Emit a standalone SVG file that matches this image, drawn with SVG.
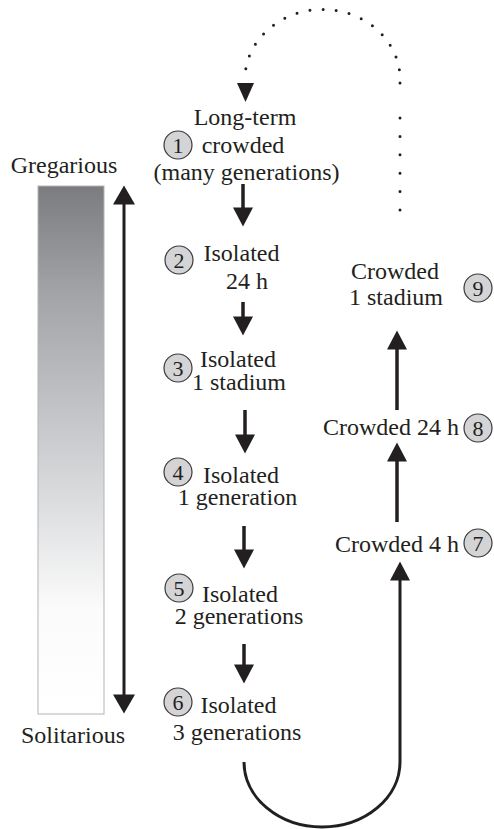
<svg xmlns="http://www.w3.org/2000/svg" width="494" height="829" viewBox="0 0 494 829">
<style>
text{font-family:"Liberation Serif","Times New Roman",serif;font-size:24px;fill:#231f20;text-anchor:middle}
.num{font-size:22px}
.end{text-anchor:end}
.badge{fill:#d4d4d6;stroke:#3a3a3a;stroke-width:1.2}
.arr{stroke:#231f20;stroke-width:3.5;fill:none;marker-end:url(#ah)}
.thin{stroke:#231f20;stroke-width:3;fill:none}
.dots{stroke:#231f20;stroke-width:3;fill:none;stroke-linecap:round}
</style>
<defs>
<linearGradient id="g" x1="0" y1="0" x2="0" y2="1">
<stop offset="0" stop-color="#7b7c80"/>
<stop offset="0.2" stop-color="#a2a3a7"/>
<stop offset="0.4" stop-color="#bfc0c3"/>
<stop offset="0.6" stop-color="#dcdddf"/>
<stop offset="0.8" stop-color="#fbfbfb"/>
<stop offset="1" stop-color="#ffffff"/>
</linearGradient>
<marker id="ah" markerUnits="userSpaceOnUse" markerWidth="20" markerHeight="20" viewBox="0 0 19 20" refX="0.5" refY="10" orient="auto">
<path d="M0,0 L19,10 L0,20 z" fill="#231f20"/>
</marker>
<marker id="ahs" markerUnits="userSpaceOnUse" markerWidth="20" markerHeight="22" viewBox="0 0 19 22" refX="0.5" refY="11" orient="auto-start-reverse">
<path d="M0,0 L19,11 L0,22 z" fill="#231f20"/>
</marker>
</defs>
<g id="scale">
<rect x="38" y="186" width="66" height="528" fill="url(#g)" stroke="#b4b4b6" stroke-width="1"/>
<text x="64" y="173">Gregarious</text>
<text x="73" y="743">Solitarious</text>
</g>

<g id="connectors">
<line x1="124" y1="204" x2="124" y2="695" stroke="#231f20" stroke-width="3" marker-start="url(#ahs)" marker-end="url(#ahs)"/>
<line class="arr" x1="243" y1="184" x2="243" y2="208"/>
<line class="arr" x1="243" y1="302" x2="243" y2="317"/>
<line class="arr" x1="245" y1="410" x2="245" y2="435"/>
<line class="arr" x1="244" y1="526" x2="244" y2="550"/>
<line class="arr" x1="244" y1="644" x2="244" y2="665"/>
<line class="arr" x1="397" y1="522" x2="397" y2="461"/>
<line class="arr" x1="397" y1="410" x2="397" y2="349"/>
<path class="thin" d="M244,762 A78,65 0 0 0 400,762 L400,580" marker-end="url(#ah)"/>
<path class="dots" d="M400,83 A77.5,70 0 0 0 245,76" stroke-dasharray="0 13.2"/>
<polygon points="237,83 254,83 245.5,102" fill="#231f20"/>
<path class="dots" d="M400,118 L400,211" stroke-dasharray="0 18.4"/>
</g>

<g id="n1">
<circle class="badge" cx="178" cy="145" r="14"/>
<text class="num" x="178" y="152.5">1</text>
<text x="245" y="125">Long-term</text>
<text x="243" y="153">crowded</text>
<text x="246.5" y="180">(many generations)</text>
</g>
<g id="n2">
<circle class="badge" cx="179" cy="260" r="14"/>
<text class="num" x="179" y="267.5">2</text>
<text x="241.5" y="261">Isolated</text>
<text x="247" y="289">24 h</text>
</g>
<g id="n3">
<circle class="badge" cx="178" cy="368" r="14"/>
<text class="num" x="178" y="375.5">3</text>
<text x="238" y="367">Isolated</text>
<text x="239" y="390">1 stadium</text>
</g>
<g id="n4">
<circle class="badge" cx="178" cy="472" r="14"/>
<text class="num" x="178" y="479.5">4</text>
<text x="241" y="483">Isolated</text>
<text x="237.5" y="505">1 generation</text>
</g>
<g id="n5">
<circle class="badge" cx="179" cy="588" r="14"/>
<text class="num" x="179" y="595.5">5</text>
<text x="240" y="602">Isolated</text>
<text x="239" y="624">2 generations</text>
</g>
<g id="n6">
<circle class="badge" cx="178" cy="702" r="14"/>
<text class="num" x="178" y="709.5">6</text>
<text x="238.5" y="713">Isolated</text>
<text x="237" y="740">3 generations</text>
</g>
<g id="n7">
<circle class="badge" cx="478" cy="543" r="14"/>
<text class="num" x="478" y="550.5">7</text>
<text class="end" x="459" y="552">Crowded 4 h</text>
</g>
<g id="n8">
<circle class="badge" cx="478" cy="428" r="14"/>
<text class="num" x="478" y="435.5">8</text>
<text class="end" x="459" y="435">Crowded 24 h</text>
</g>
<g id="n9">
<circle class="badge" cx="478" cy="288" r="14"/>
<text class="num" x="478" y="295.5">9</text>
<text x="395" y="279">Crowded</text>
<text x="396" y="305">1 stadium</text>
</g>
</svg>
